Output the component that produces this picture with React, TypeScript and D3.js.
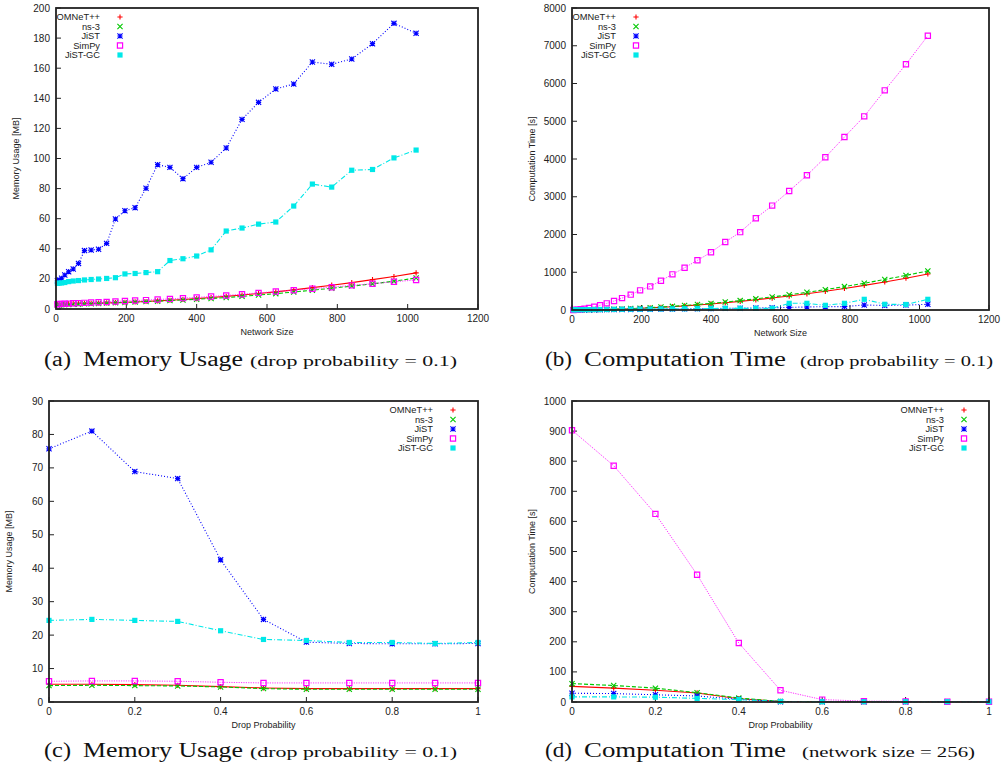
import React from "react";
import * as d3 from "d3";

// simulators, in gnuplot plotting order
const names = ["OMNeT++", "ns-3", "JiST", "SimPy", "JiST-GC"];
const colors = ["#ff0000", "#00c800", "#0000ff", "#ff00ff", "#00e8e8"];
const dashes = ["none", "4,2", "1,2", "1.2,1.2", "5,2,1,2"];
const markers = ["plus", "cross", "star", "openSquare", "filledSquare"];

// network sizes (2x2 .. 32x32 grids)
const sizes = [4, 9, 16, 25, 36, 49, 64, 81, 100, 121, 144, 169, 196, 225, 256, 289, 324, 361, 400, 441, 484, 529, 576, 625, 676, 729, 784, 841, 900, 961, 1024];

// (a) memory usage [MB] vs network size
const memOmnet = [3.5, 3.5, 3.5, 3.5, 3.6, 3.6, 3.7, 3.7, 3.8, 4.0, 4.1, 4.2, 4.5, 4.7, 5.0, 5.4, 5.8, 6.3, 6.9, 7.6, 8.4, 9.3, 10.3, 11.4, 12.7, 14.2, 15.8, 17.5, 19.5, 21.6, 24.0];
const memNs3 = [2.6, 2.7, 2.8, 2.9, 3.0, 3.1, 3.2, 3.4, 3.5, 3.7, 3.9, 4.1, 4.3, 4.6, 4.9, 5.2, 5.6, 6.0, 6.5, 7.0, 7.6, 8.4, 9.3, 10.2, 11.3, 12.5, 13.8, 15.2, 16.7, 18.5, 20.6];
const memJist = [18.8, 19.4, 20.4, 22.6, 24.8, 26.6, 30.3, 38.8, 39.2, 39.7, 43.6, 59.8, 65.3, 67.3, 80.2, 95.9, 94.1, 86.6, 94.1, 97.5, 107, 126.0, 137.3, 146.2, 149.5, 164.1, 162.6, 166.1, 176.3, 189.8, 183.2];
const memSimpy = [3.2, 3.3, 3.4, 3.5, 3.6, 3.8, 3.9, 4.1, 4.3, 4.5, 4.7, 5.0, 5.3, 5.6, 5.9, 6.3, 6.7, 7.2, 7.7, 8.3, 9.0, 9.8, 10.7, 11.6, 12.5, 13.5, 14.5, 15.7, 16.8, 18.1, 19.3];
const memJistGc = [17.1, 17.2, 17.3, 17.6, 18.2, 18.6, 18.9, 19.3, 19.6, 19.9, 20.3, 20.8, 23.3, 23.6, 24.2, 24.8, 32.2, 33.4, 35.2, 39.3, 51.8, 53.8, 56.4, 57.8, 68.4, 83.0, 81.0, 92.2, 92.7, 100.4, 105.6];

// (b) computation time [s] vs network size
const timeOmnet = [0, 1, 1, 2, 3, 5, 7, 10, 15, 20, 26, 34, 44, 57, 71, 88, 109, 132, 160, 192, 228, 270, 317, 370, 429, 496, 570, 652, 743, 843, 953];
const timeNs3 = [0, 1, 1, 2, 4, 6, 8, 12, 16, 22, 29, 38, 49, 62, 78, 97, 119, 145, 175, 210, 249, 295, 346, 403, 468, 540, 620, 710, 808, 917, 1036];
const timeJist = [2, 3, 4, 5, 6, 7, 8, 9, 10, 12, 14, 16, 18, 20, 23, 26, 30, 34, 38, 43, 48, 53, 60, 70, 80, 88, 90, 132, 120, 130, 151];
const timeSimpy = [1, 4, 9, 19, 34, 56, 86, 126, 176, 238, 315, 407, 520, 625, 776, 945, 1121, 1316, 1528, 1801, 2062, 2430, 2765, 3152, 3568, 4045, 4583, 5130, 5819, 6508, 7266];
const timeJistGc = [5, 6, 7, 8, 9, 10, 12, 13, 15, 17, 19, 21, 23, 25, 28, 30, 33, 36, 40, 44, 44, 44, 44, 177, 177, 124, 177, 283, 151, 146, 283];

// drop probabilities
const drops = [0, 0.1, 0.2, 0.3, 0.4, 0.5, 0.6, 0.7, 0.8, 0.9, 1];

// (c) memory usage [MB] vs drop probability
const dropMemOmnet = [5.3, 5.3, 5.2, 5.0, 4.6, 4.2, 4.0, 4.0, 4.0, 4.0, 4.0];
const dropMemNs3 = [4.9, 5.0, 4.9, 4.8, 4.5, 4.0, 3.8, 3.8, 3.8, 3.8, 3.8];
const dropMemJist = [75.7, 81.0, 68.9, 66.8, 42.5, 24.7, 17.9, 17.5, 17.4, 17.4, 17.5];
const dropMemSimpy = [6.2, 6.3, 6.3, 6.2, 5.9, 5.7, 5.7, 5.7, 5.7, 5.7, 5.7];
const dropMemJistGc = [24.4, 24.7, 24.4, 24.1, 21.3, 18.7, 18.4, 17.8, 17.8, 17.5, 17.8];

// (d) computation time [s] vs drop probability
const dropTimeOmnet = [52, 46, 39, 30, 11, 2, 1, 1, 1, 1, 1];
const dropTimeNs3 = [61, 55, 46, 31, 13, 2, 1, 1, 1, 1, 1];
const dropTimeJist = [29, 28, 24, 20, 9, 1, 1, 1, 1, 1, 1];
const dropTimeSimpy = [903, 785, 625, 423, 196, 39, 8, 3, 2, 1, 1];
const dropTimeJistGc = [17, 17, 16, 12, 8, 2, 1, 1, 1, 1, 1];

const sizeTicks = [0, 200, 400, 600, 800, 1000, 1200];
const dropTicks = [0, 0.2, 0.4, 0.6, 0.8, 1];
const memTicksA = [0, 20, 40, 60, 80, 100, 120, 140, 160, 180, 200];
const timeTicksB = [0, 1000, 2000, 3000, 4000, 5000, 6000, 7000, 8000];
const memTicksC = [0, 10, 20, 30, 40, 50, 60, 70, 80, 90];
const timeTicksD = [0, 100, 200, 300, 400, 500, 600, 700, 800, 900, 1000];

const SANS = "'Liberation Sans', Arial, sans-serif";
const SERIF = "'Liberation Serif', 'Times New Roman', serif";
const INK = "#222";

const markerPath = (kind: string, x: number, y: number) => {
  const s = 2.6;
  const plus = `M${x - s},${y}H${x + s}M${x},${y - s}V${y + s}`;
  const cross = `M${x - s},${y - s}L${x + s},${y + s}M${x - s},${y + s}L${x + s},${y - s}`;
  if (kind === "plus") return plus;
  if (kind === "cross") return cross;
  if (kind === "star") return plus + cross;
  return `M${x - s},${y - s}H${x + s}V${y + s}H${x - s}Z`;
};

const Marker = ({ kind, x, y, color }: any) => {
  const d = markerPath(kind, x, y);
  if (kind === "filledSquare") return <path d={d} fill={color} stroke="none" />;
  if (kind === "openSquare") return <path d={d} fill="none" stroke={color} strokeWidth={1.2} />;
  return <path d={d} fill="none" stroke={color} strokeWidth={1.1} />;
};

type Box = { l: number; r: number; t: number; b: number };

const Panel = ({ box, xDomain, yDomain, xTicks, yTicks, xs, ys, xTitle, yTitle, legendAt }: any) => {
  const { l, r, t, b } = box as Box;
  const x = d3.scaleLinear().domain(xDomain).range([l, r]);
  const y = d3.scaleLinear().domain(yDomain).range([b, t]);
  const line = d3
    .line<number>()
    .x((_, i) => x(xs[i]))
    .y((d) => y(d));

  const legendTextX = legendAt === "left" ? l + 44 : r - 45;
  const legendMarkX = legendAt === "left" ? l + 64 : r - 25;
  const legendTop = t + 9;

  return (
    <g>
      {/* ticks */}
      {yTicks.map((v: number) => (
        <g key={"y" + v}>
          <line x1={l} x2={l + 5} y1={y(v)} y2={y(v)} stroke={INK} strokeWidth={1} />
          <text x={l - 6} y={y(v) + 3.5} textAnchor="end" fontSize={10} fill={INK} fontFamily={SANS}>
            {v}
          </text>
        </g>
      ))}
      {xTicks.map((v: number) => (
        <g key={"x" + v}>
          <line x1={x(v)} x2={x(v)} y1={b} y2={b - 5} stroke={INK} strokeWidth={1} />
          <text x={x(v)} y={b + 13} textAnchor="middle" fontSize={10} fill={INK} fontFamily={SANS}>
            {v}
          </text>
        </g>
      ))}

      {/* series */}
      {ys.map((vals: number[], k: number) => (
        <g key={names[k]}>
          <path
            d={line(vals) || ""}
            fill="none"
            stroke={colors[k]}
            strokeWidth={k === 3 ? 0.8 : 1.1}
            strokeDasharray={dashes[k]}
          />
          {vals.map((v, i) => (
            <Marker key={i} kind={markers[k]} x={x(xs[i])} y={y(v)} color={colors[k]} />
          ))}
        </g>
      ))}

      {/* frame */}
      <rect x={l} y={t} width={r - l} height={b - t} fill="none" stroke={INK} strokeWidth={1.8} />

      {/* legend */}
      {names.map((n, k) => (
        <g key={"lg" + n}>
          <text x={legendTextX} y={legendTop + k * 9.5 + 3.3} textAnchor="end" fontSize={9.3} fill={INK} fontFamily={SANS}>
            {n}
          </text>
          <Marker kind={markers[k]} x={legendMarkX} y={legendTop + k * 9.5} color={colors[k]} />
        </g>
      ))}

      {/* axis titles */}
      <text x={(l + r) / 2} y={b + 26} textAnchor="middle" fontSize={9} fill={INK} fontFamily={SANS}>
        {xTitle}
      </text>
      <text
        transform={`translate(${l - 37},${(t + b) / 2}) rotate(-90)`}
        textAnchor="middle"
        fontSize={9}
        fill={INK}
        fontFamily={SANS}
      >
        {yTitle}
      </text>
    </g>
  );
};

const Caption = ({ x, y, tag, title, titleLen, note, noteX, noteLen }: any) => (
  <g fill="#111" fontFamily={SERIF}>
    <text x={x} y={y} fontSize={20} textLength={27} lengthAdjust="spacingAndGlyphs">
      {tag}
    </text>
    <text x={x + 39} y={y} fontSize={20} textLength={titleLen} lengthAdjust="spacingAndGlyphs">
      {title}
    </text>
    <text x={noteX} y={y} fontSize={15} textLength={noteLen} lengthAdjust="spacingAndGlyphs">
      {note}
    </text>
  </g>
);

export default function App() {
  return (
    <svg
      width={1002}
      height={766}
      style={{ position: "absolute", left: 0, top: 0, background: "#fff" }}
    >
      <rect width={1002} height={766} fill="#fff" />
      <Panel
        box={{ l: 56, r: 478, t: 8, b: 309 }}
        xDomain={[0, 1200]}
        yDomain={[0, 200]}
        xTicks={sizeTicks}
        yTicks={memTicksA}
        xs={sizes}
        ys={[memOmnet, memNs3, memJist, memSimpy, memJistGc]}
        xTitle="Network Size"
        yTitle="Memory Usage [MB]"
        legendAt="left"
      />
      <Panel
        box={{ l: 572, r: 989, t: 8, b: 310 }}
        xDomain={[0, 1200]}
        yDomain={[0, 8000]}
        xTicks={sizeTicks}
        yTicks={timeTicksB}
        xs={sizes}
        ys={[timeOmnet, timeNs3, timeJist, timeSimpy, timeJistGc]}
        xTitle="Network Size"
        yTitle="Computation Time [s]"
        legendAt="left"
      />
      <Panel
        box={{ l: 49, r: 478, t: 401, b: 702 }}
        xDomain={[0, 1]}
        yDomain={[0, 90]}
        xTicks={dropTicks}
        yTicks={memTicksC}
        xs={drops}
        ys={[dropMemOmnet, dropMemNs3, dropMemJist, dropMemSimpy, dropMemJistGc]}
        xTitle="Drop Probability"
        yTitle="Memory Usage [MB]"
        legendAt="right"
      />
      <Panel
        box={{ l: 572, r: 989, t: 401, b: 702 }}
        xDomain={[0, 1]}
        yDomain={[0, 1000]}
        xTicks={dropTicks}
        yTicks={timeTicksD}
        xs={drops}
        ys={[dropTimeOmnet, dropTimeNs3, dropTimeJist, dropTimeSimpy, dropTimeJistGc]}
        xTitle="Drop Probability"
        yTitle="Computation Time [s]"
        legendAt="right"
      />
      <Caption x={44} y={366} tag="(a)" title="Memory Usage" titleLen={160} note="(drop probability = 0.1)" noteX={250} noteLen={207} />
      <Caption x={545} y={366} tag="(b)" title="Computation Time" titleLen={202} note="(drop probability = 0.1)" noteX={800} noteLen={193} />
      <Caption x={44} y={757} tag="(c)" title="Memory Usage" titleLen={160} note="(drop probability = 0.1)" noteX={250} noteLen={207} />
      <Caption x={545} y={757} tag="(d)" title="Computation Time" titleLen={202} note="(network size = 256)" noteX={802} noteLen={173} />
    </svg>
  );
}
